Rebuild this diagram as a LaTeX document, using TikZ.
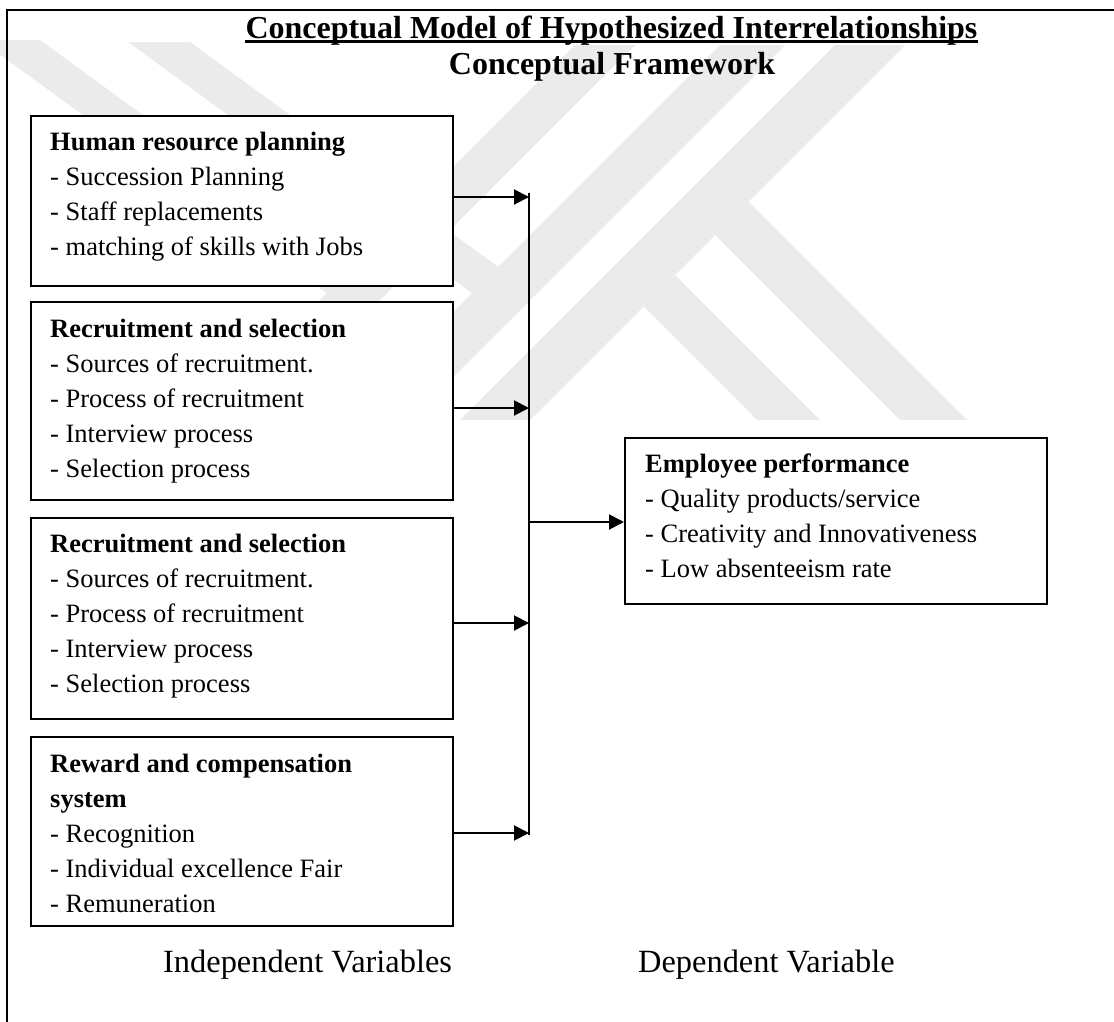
\documentclass[tikz,border=0pt]{standalone}
\usepackage{fontspec}
\setmainfont{Liberation Serif}
\usetikzlibrary{arrows.meta}
\definecolor{wmgray}{RGB}{235,235,235}
\begin{document}
\begin{tikzpicture}[x=1bp,y=-1bp,
  wm/.style={fill=wmgray,draw=none},
  box/.style={draw=black,line width=1.5bp,fill=white,anchor=north west,minimum width=422bp,inner sep=0pt},
  txt/.style={anchor=north west,inner sep=0pt,align=left,font=\fontsize{26.5bp}{35bp}\selectfont},
  lbl/.style={anchor=base west,inner sep=0pt,font=\fontsize{32.4bp}{38bp}\selectfont},
  ttl/.style={anchor=base,inner sep=0pt,font=\fontsize{32bp}{36bp}\selectfont\bfseries},
  arr/.style={line width=2bp,-{Triangle[length=15bp,width=15bp]}},
  thickline/.style={line width=2bp}]
\useasboundingbox (0,0) rectangle (1114,1022);
% watermark
\fill[wm] (-20,40) -- (40,40) -- (387,293) -- (361.5,318.5) -- cycle;
\fill[wm] (128,42) -- (190,42) -- (535.7,294.3) -- (509.5,320.5) -- cycle;
\fill[wm] (575,45) -- (635,45) -- (260,420) -- (200,420) -- cycle;
\fill[wm] (720,45) -- (785,45) -- (410,420) -- (345,420) -- cycle;
\fill[wm] (835,45) -- (905,45) -- (530,420) -- (460,420) -- cycle;
\fill[wm] (643.5,306.5) -- (675,275) -- (820,420) -- (757,420) -- cycle;
\fill[wm] (715,235) -- (748.5,201.5) -- (967,420) -- (900,420) -- cycle;
% frame
\draw[thickline] (7,1022) -- (7,10) -- (1114,10);
% title
\node[ttl] (title) at (611.5,38) {Conceptual Model of Hypothesized Interrelationships};
\draw[line width=2.2bp] ([yshift=-3.5bp]title.base west) -- ([yshift=-3.5bp]title.base east);
\node[ttl] (subtitle) at (612,74) {Conceptual Framework};
% boxes
\node[box,minimum height=170bp] (b1) at (30,115) {};
\node[box,minimum height=198bp] (b2) at (30,301) {};
\node[box,minimum height=201bp] (b3) at (30,517) {};
\node[box,minimum height=189bp] (b4) at (30,736) {};
\node[box,minimum height=166bp] (be) at (624,437) {};
\node[txt] (t1) at (50,126) {\strut\textbf{Human resource planning}\\- Succession Planning\\- Staff replacements\\- matching of skills with Jobs};
\node[txt] (t2) at (50,312.5) {\strut\textbf{Recruitment and selection}\\- Sources of recruitment.\\- Process of recruitment\\- Interview process\\- Selection process};
\node[txt] (t3) at (50,527.5) {\strut\textbf{Recruitment and selection}\\- Sources of recruitment.\\- Process of recruitment\\- Interview process\\- Selection process};
\node[txt] (t4) at (50,747.5) {\strut\textbf{Reward and compensation}\\\textbf{system}\\- Recognition\\- Individual excellence Fair\\- Remuneration};
\node[txt] (te) at (645,447.5) {\strut\textbf{Employee performance}\\- Quality products/service\\- Creativity and Innovativeness\\- Low absenteeism rate};
% bus
\coordinate (bt) at (529,193);
\coordinate (bb) at (529,835);
\coordinate (j1) at (529,197);
\coordinate (j2) at (529,408);
\coordinate (j3) at (529,623);
\coordinate (j4) at (529,833);
\coordinate (jm) at (529,522);
\draw[thickline] (bt) -- (bb);
\draw[arr] (b1.east |- j1) -- (j1);
\draw[arr] (b2.east |- j2) -- (j2);
\draw[arr] (b3.east |- j3) -- (j3);
\draw[arr] (b4.east |- j4) -- (j4);
\draw[arr] (jm) -- (be.west |- jm);
% labels
\node[lbl] (indep) at (163,972) {Independent Variables};
\node[lbl] (dep) at (638,972) {Dependent Variable};
\end{tikzpicture}
\end{document}
